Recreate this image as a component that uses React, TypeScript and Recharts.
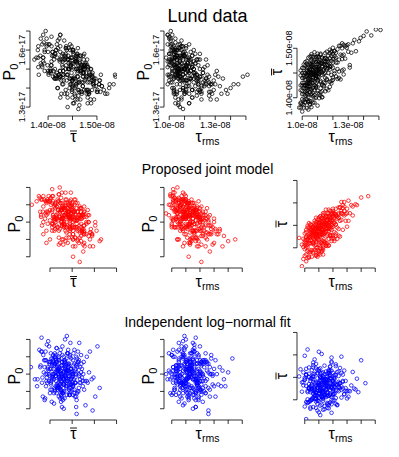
import React from "react";
import { ReferenceLine, Scatter, ScatterChart, XAxis, YAxis } from "recharts";

// units: P0 in 1e-19, tau-bar in 1e-11 s, tau-rms in 1e-10 s
const lundTauRms = [
  104, 108, 101, 112, 106, 99, 115, 103, 110, 107,
  102, 105, 111, 100, 118, 104, 109, 103, 113, 106,
  107, 101, 116, 104, 99, 110, 105, 122, 102, 108,
  103, 114, 106, 100, 109, 126, 104, 111, 107, 102,
  105, 112, 101, 108, 98, 119, 106, 103, 110, 133,
  104, 107, 115, 100, 109, 102, 112, 106, 121, 99,
  108, 103, 117, 105, 101, 111, 128, 104, 107, 113,
  100, 106, 110, 102, 124, 105, 108, 103, 116, 101,
  107, 114, 104, 109, 99, 111, 137, 106, 103, 119,
  102, 105, 110, 104, 108, 101, 113, 106, 130, 100,
  109, 103, 118, 105, 107, 100, 112, 104, 145, 106,
  101, 110, 104, 115, 108, 102, 120, 106, 103, 111,
  105, 100, 109, 127, 104, 107, 113, 101, 106, 140,
  103, 108, 111, 99, 105, 116, 102, 110, 104, 123,
  106, 101, 109, 104, 112, 100, 107, 135, 103, 108,
  110, 104, 102, 117, 106, 99, 114, 105, 148, 101,
  107, 103, 112, 105, 121, 108, 100, 110, 104, 131,
  102, 106, 109, 101, 115, 104, 111, 99, 142, 107,
  105, 113, 103, 108, 100, 126, 106, 102, 110, 119,
  104, 108, 101, 112, 106, 103, 109, 151, 105, 117,
  114, 119, 109, 123, 116, 111, 128, 113, 120, 117,
  110, 122, 115, 106, 125, 118, 112, 129, 108, 121,
  117, 105, 124, 112, 119, 109, 131, 115, 103, 126,
  107, 113, 120, 110, 127, 116, 104, 122, 111, 118,
  114, 102, 118, 125, 109, 113, 106, 121, 116, 134,
  111, 120, 108, 115, 123, 104, 118, 112, 127, 109,
  116, 110, 129, 106, 113, 121, 102, 119, 124, 114,
  108, 117, 111, 126, 105, 114, 120, 109, 115, 138,
  113, 106, 122, 118, 110, 125, 115, 103, 119, 112,
  109, 124, 114, 107, 120, 111, 132, 116, 105, 121,
  112, 118, 107, 123, 115, 110, 127, 104, 117, 113,
  119, 108, 114, 126, 111, 120, 106, 115, 130, 110,
];
const lundTauBar = [
  1433, 1405, 1445, 1431, 1466, 1388, 1463, 1414, 1436, 1390,
  1437, 1393, 1472, 1397, 1462, 1466, 1420, 1424, 1401, 1448,
  1436, 1380, 1473, 1401, 1425, 1484, 1423, 1481, 1390, 1460,
  1409, 1448, 1381, 1450, 1452, 1485, 1391, 1449, 1483, 1425,
  1451, 1419, 1425, 1425, 1380, 1494, 1441, 1461, 1409, 1510,
  1423, 1463, 1430, 1372, 1437, 1405, 1469, 1408, 1449, 1455,
  1445, 1397, 1450, 1483, 1440, 1399, 1504, 1439, 1420, 1463,
  1407, 1474, 1444, 1450, 1453, 1388, 1492, 1419, 1458, 1385,
  1410, 1478, 1436, 1400, 1415, 1457, 1514, 1431, 1379, 1434,
  1472, 1431, 1384, 1449, 1415, 1420, 1481, 1458, 1493, 1430,
  1472, 1444, 1432, 1411, 1448, 1387, 1434, 1461, 1526, 1393,
  1460, 1459, 1406, 1490, 1433, 1412, 1461, 1488, 1431, 1427,
  1458, 1460, 1444, 1457, 1376, 1430, 1413, 1430, 1436, 1525,
  1469, 1400, 1465, 1390, 1438, 1418, 1417, 1449, 1429, 1498,
  1451, 1407, 1482, 1453, 1454, 1414, 1403, 1494, 1447, 1475,
  1434, 1416, 1442, 1475, 1416, 1445, 1431, 1445, 1538, 1467,
  1473, 1407, 1487, 1418, 1484, 1448, 1440, 1469, 1393, 1466,
  1425, 1464, 1424, 1450, 1440, 1423, 1442, 1380, 1534, 1440,
  1441, 1451, 1454, 1390, 1424, 1500, 1406, 1397, 1442, 1464,
  1431, 1452, 1395, 1404, 1476, 1427, 1462, 1537, 1385, 1485,
  1458, 1429, 1472, 1458, 1478, 1407, 1479, 1469, 1436, 1460,
  1454, 1471, 1480, 1418, 1437, 1457, 1411, 1501, 1482, 1454,
  1415, 1468, 1477, 1459, 1492, 1422, 1461, 1450, 1474, 1455,
  1456, 1401, 1478, 1482, 1487, 1436, 1481, 1491, 1452, 1422,
  1468, 1465, 1464, 1487, 1450, 1426, 1456, 1494, 1438, 1517,
  1475, 1441, 1448, 1460, 1471, 1446, 1480, 1471, 1447, 1440,
  1493, 1414, 1506, 1446, 1481, 1494, 1392, 1446, 1505, 1423,
  1425, 1472, 1482, 1478, 1455, 1455, 1471, 1457, 1413, 1521,
  1446, 1484, 1443, 1490, 1462, 1505, 1473, 1457, 1474, 1489,
  1444, 1440, 1473, 1450, 1488, 1462, 1491, 1466, 1428, 1479,
  1451, 1497, 1466, 1438, 1480, 1489, 1507, 1451, 1465, 1471,
  1484, 1462, 1425, 1510, 1459, 1501, 1468, 1467, 1508, 1474,
];
const lundP0 = [
  157, 150, 163, 147, 149, 163, 139, 145, 157, 154,
  161, 149, 148, 166, 136, 151, 140, 154, 148, 156,
  139, 162, 148, 147, 168, 138, 155, 143, 156, 134,
  159, 145, 147, 144, 158, 143, 164, 139, 146, 149,
  160, 156, 146, 135, 156, 144, 150, 139, 159, 141,
  166, 144, 151, 155, 162, 148, 152, 157, 138, 154,
  145, 162, 141, 137, 155, 152, 142, 137, 161, 143,
  167, 150, 150, 140, 145, 151, 144, 140, 154, 166,
  146, 153, 156, 159, 147, 141, 139, 146, 160, 155,
  143, 142, 157, 156, 146, 165, 132, 150, 142, 154,
  150, 145, 144, 157, 148, 152, 155, 161, 142, 160,
  143, 157, 152, 139, 165, 155, 146, 132, 149, 144,
  150, 158, 140, 142, 156, 155, 145, 158, 161, 140,
  138, 149, 155, 168, 147, 145, 160, 144, 152, 141,
  145, 154, 139, 132, 150, 158, 163, 145, 152, 150,
  137, 160, 150, 153, 145, 142, 149, 160, 146, 152,
  152, 152, 150, 148, 137, 153, 147, 143, 159, 134,
  168, 131, 149, 160, 135, 146, 161, 151, 142, 130,
  157, 132, 146, 156, 146, 138, 149, 163, 153, 143,
  147, 160, 170, 149, 152, 137, 129, 147, 153, 147,
  154, 142, 157, 142, 148, 162, 137, 137, 158, 148,
  137, 148, 139, 163, 152, 155, 149, 139, 151, 140,
  158, 138, 145, 153, 142, 147, 149, 135, 158, 136,
  154, 163, 139, 150, 134, 150, 135, 148, 151, 147,
  149, 154, 138, 147, 144, 155, 134, 141, 160, 137,
  144, 155, 162, 146, 151, 151, 155, 141, 142, 147,
  143, 150, 144, 153, 151, 134, 153, 152, 142, 145,
  162, 146, 138, 146, 155, 145, 146, 157, 157, 137,
  156, 148, 150, 147, 150, 144, 151, 156, 139, 144,
  155, 155, 155, 142, 150, 152, 146, 150, 157, 146,
  153, 145, 157, 144, 152, 146, 138, 159, 153, 141,
  145, 157, 159, 141, 158, 138, 148, 157, 147, 152,
];

const jointTauRms = [
  108, 115, 102, 121, 111, 99, 118, 106, 126, 113,
  104, 117, 110, 129, 101, 114, 107, 122, 98, 112,
  109, 120, 103, 116, 111, 133, 105, 124, 100, 113,
  106, 112, 119, 102, 115, 108, 127, 110, 104, 118,
  113, 101, 121, 108, 96, 116, 110, 131, 105, 114,
  107, 123, 103, 111, 117, 100, 109, 136, 112, 104,
  115, 108, 120, 102, 113, 125, 106, 110, 118, 99,
  111, 104, 128, 116, 107, 113, 101, 122, 109, 140,
  105, 118, 112, 100, 124, 109, 115, 103, 130, 108,
  114, 106, 119, 110, 102, 127, 112, 117, 104, 121,
  108, 116, 101, 113, 134, 107, 111, 120, 99, 115,
  103, 112, 125, 109, 117, 105, 119, 110, 145, 113,
  107, 121, 114, 101, 110, 118, 104, 129, 111, 116,
  113, 102, 108, 123, 115, 106, 137, 112, 100, 119,
  110, 117, 104, 112, 127, 108, 120, 114, 102, 132,
  106, 115, 111, 98, 118, 109, 124, 103, 113, 107,
  112, 105, 121, 109, 116, 101, 126, 110, 119, 104,
  108, 114, 102, 120, 111, 106, 117, 131, 113, 109,
  104, 116, 110, 122, 107, 113, 100, 118, 111, 128,
  109, 103, 115, 119, 106, 112, 124, 101, 108, 116,
  118, 110, 125, 104, 115, 121, 108, 130, 113, 100,
  107, 116, 112, 123, 103, 119, 110, 127, 114, 106,
  111, 120, 105, 117, 124, 109, 114, 101, 122, 116,
  108, 113, 126, 102, 119, 111, 106, 121, 115, 118,
  112, 104, 117, 109, 122, 114, 107, 128, 110, 120,
  115, 103, 110, 124, 108, 118, 113, 101, 126, 111,
  106, 119, 114, 109, 121, 103, 116, 112, 134, 107,
  113, 120, 105, 117, 110, 125, 108, 115, 102, 122,
  109, 116, 121, 104, 113, 111, 128, 118, 107, 114,
  117, 110, 123, 106, 115, 119, 112, 105, 126, 108,
  114, 101, 118, 111, 124, 108, 116, 120, 104, 113,
  110, 122, 107, 115, 119, 112, 130, 105, 117, 109,
];
const jointTauBar = [
  1427, 1410, 1407, 1470, 1385, 1420, 1442, 1389, 1477, 1465,
  1427, 1470, 1407, 1475, 1370, 1435, 1450, 1427, 1359, 1442,
  1420, 1427, 1445, 1462, 1432, 1495, 1395, 1467, 1407, 1395,
  1437, 1397, 1462, 1377, 1435, 1467, 1440, 1442, 1390, 1482,
  1440, 1440, 1415, 1382, 1422, 1427, 1452, 1505, 1425, 1415,
  1405, 1470, 1378, 1470, 1420, 1397, 1443, 1497, 1430, 1437,
  1470, 1422, 1472, 1427, 1385, 1460, 1422, 1392, 1452, 1402,
  1445, 1410, 1492, 1410, 1428, 1433, 1405, 1452, 1395, 1512,
  1380, 1429, 1467, 1417, 1427, 1423, 1452, 1415, 1477, 1452,
  1462, 1412, 1440, 1427, 1445, 1475, 1392, 1455, 1424, 1435,
  1400, 1444, 1410, 1477, 1472, 1442, 1405, 1482, 1375, 1405,
  1430, 1424, 1490, 1380, 1470, 1410, 1420, 1467, 1515, 1430,
  1435, 1455, 1412, 1425, 1387, 1462, 1394, 1460, 1450, 1477,
  1405, 1402, 1442, 1445, 1442, 1447, 1495, 1414, 1432, 1475,
  1437, 1405, 1452, 1440, 1495, 1407, 1447, 1452, 1392, 1477,
  1409, 1455, 1425, 1407, 1427, 1445, 1477, 1380, 1440, 1395,
  1452, 1440, 1467, 1418, 1404, 1385, 1477, 1455, 1415, 1422,
  1430, 1432, 1417, 1422, 1400, 1427, 1443, 1460, 1450, 1400,
  1440, 1452, 1417, 1472, 1418, 1415, 1412, 1462, 1455, 1482,
  1437, 1410, 1425, 1450, 1435, 1410, 1467, 1417, 1432, 1437,
  1467, 1457, 1425, 1452, 1470, 1420, 1447, 1447, 1400, 1382,
  1460, 1460, 1392, 1420, 1455, 1478, 1437, 1488, 1467, 1392,
  1470, 1487, 1430, 1405, 1490, 1385, 1447, 1435, 1487, 1442,
  1457, 1435, 1462, 1449, 1450, 1428, 1412, 1457, 1445, 1427,
  1430, 1417, 1485, 1427, 1432, 1457, 1432, 1472, 1432, 1460,
  1405, 1390, 1462, 1442, 1414, 1472, 1473, 1400, 1482, 1412,
  1432, 1428, 1412, 1463, 1475, 1425, 1454, 1467, 1492, 1445,
  1460, 1470, 1450, 1437, 1392, 1490, 1384, 1462, 1419, 1452,
  1435, 1470, 1477, 1434, 1445, 1458, 1502, 1447, 1418, 1477,
  1450, 1445, 1465, 1445, 1485, 1445, 1457, 1445, 1502, 1437,
  1452, 1423, 1457, 1442, 1474, 1430, 1462, 1477, 1442, 1453,
  1449, 1475, 1455, 1450, 1460, 1450, 1487, 1435, 1477, 1445,
];
const jointP0 = [
  159, 145, 162, 142, 159, 166, 153, 152, 148, 138,
  150, 154, 165, 137, 162, 139, 158, 148, 160, 152,
  166, 152, 147, 156, 148, 143, 162, 141, 149, 155,
  150, 162, 139, 164, 155, 145, 148, 157, 155, 149,
  138, 158, 152, 163, 155, 157, 143, 145, 164, 148,
  165, 147, 156, 153, 141, 165, 154, 136, 149, 147,
  152, 146, 145, 167, 150, 152, 156, 154, 136, 160,
  161, 151, 144, 159, 152, 154, 169, 143, 156, 139,
  163, 158, 148, 152, 152, 138, 150, 159, 138, 153,
  140, 160, 156, 148, 147, 133, 161, 151, 157, 145,
  162, 143, 151, 153, 145, 156, 147, 150, 165, 161,
  152, 161, 144, 154, 139, 153, 162, 152, 140, 137,
  163, 151, 150, 152, 163, 153, 163, 147, 141, 144,
  149, 164, 156, 151, 141, 159, 142, 154, 147, 146,
  153, 157, 140, 161, 143, 153, 146, 154, 156, 143,
  148, 156, 157, 154, 140, 162, 148, 153, 154, 149,
  130, 156, 127, 157, 149, 165, 143, 153, 153, 170,
  152, 158, 147, 153, 157, 149, 153, 146, 147, 163,
  158, 145, 147, 152, 151, 159, 158, 145, 156, 143,
  155, 152, 150, 153, 159, 152, 144, 163, 154, 144,
  159, 163, 158, 140, 158, 137, 167, 152, 140, 148,
  147, 158, 138, 145, 163, 136, 147, 154, 154, 145,
  156, 150, 140, 145, 136, 143, 163, 167, 142, 155,
  136, 154, 151, 160, 148, 161, 160, 147, 145, 157,
  158, 155, 157, 153, 150, 141, 147, 146, 149, 151,
  156, 162, 152, 156, 152, 154, 144, 151, 153, 146,
  157, 154, 161, 156, 155, 157, 147, 158, 146, 146,
  149, 158, 161, 141, 162, 140, 156, 156, 157, 156,
  160, 149, 159, 158, 148, 161, 148, 155, 162, 145,
  157, 152, 154, 159, 154, 153, 154, 149, 150, 163,
  156, 161, 141, 160, 154, 159, 161, 156, 153, 157,
  155, 154, 160, 152, 151, 159, 150, 161, 156, 152,
];

const indepTauRms = [
  112, 105, 121, 98, 116, 109, 127, 103, 114, 118,
  107, 124, 111, 101, 119, 113, 131, 106, 110, 115,
  120, 104, 108, 117, 125, 100, 112, 136, 109, 114,
  116, 102, 122, 111, 107, 119, 113, 128, 105, 110,
  103, 117, 109, 121, 114, 99, 126, 112, 106, 118,
  111, 134, 104, 115, 108, 123, 110, 101, 119, 113,
  125, 107, 116, 102, 112, 120, 109, 117, 140, 105,
  114, 110, 121, 106, 118, 97, 113, 129, 108, 116,
  101, 119, 111, 124, 105, 115, 109, 122, 103, 112,
  117, 108, 133, 113, 100, 120, 111, 106, 126, 114,
  109, 118, 104, 115, 121, 110, 96, 116, 107, 123,
  112, 127, 103, 119, 108, 114, 130, 105, 117, 111,
  106, 113, 120, 102, 116, 109, 124, 111, 118, 104,
  115, 101, 122, 110, 107, 119, 113, 138, 106, 117,
  121, 108, 114, 99, 125, 112, 118, 105, 110, 116,
  103, 120, 111, 128, 106, 115, 109, 122, 113, 100,
  119, 107, 117, 112, 104, 124, 110, 116, 121, 108,
  111, 132, 105, 118, 113, 102, 120, 109, 115, 126,
  114, 106, 119, 103, 110, 123, 117, 108, 112, 143,
  107, 116, 101, 121, 111, 118, 104, 114, 127, 109,
  118, 108, 113, 124, 102, 115, 110, 121, 106, 129,
  111, 117, 104, 120, 109, 114, 126, 100, 116, 112,
  107, 122, 113, 98, 119, 110, 131, 105, 117, 114,
  123, 109, 116, 103, 112, 120, 108, 118, 111, 135,
  104, 115, 110, 125, 113, 107, 119, 101, 121, 116,
  112, 128, 106, 117, 109, 114, 122, 103, 110, 119,
  115, 100, 120, 111, 124, 108, 113, 117, 105, 127,
  109, 118, 114, 102, 116, 121, 107, 112, 130, 110,
  120, 105, 117, 113, 99, 123, 111, 116, 108, 114,
  103, 119, 110, 126, 115, 106, 121, 113, 118, 101,
  116, 111, 129, 107, 112, 120, 104, 117, 110, 122,
  113, 124, 108, 115, 119, 103, 114, 137, 106, 118,
];
const indepTauBar = [
  1432, 1401, 1455, 1418, 1390, 1467, 1440, 1425, 1379, 1448,
  1412, 1436, 1470, 1395, 1428, 1452, 1407, 1483, 1421, 1444,
  1398, 1430, 1415, 1461, 1437, 1385, 1449, 1423, 1409, 1476,
  1443, 1417, 1391, 1434, 1458, 1426, 1402, 1465, 1431, 1413,
  1450, 1381, 1427, 1446, 1410, 1439, 1496, 1420, 1404, 1453,
  1424, 1462, 1399, 1441, 1416, 1433, 1372, 1457, 1429, 1406,
  1471, 1419, 1445, 1393, 1435, 1411, 1459, 1427, 1488, 1403,
  1438, 1414, 1451, 1384, 1422, 1468, 1408, 1442, 1396, 1430,
  1357, 1447, 1420, 1463, 1400, 1436, 1415, 1479, 1425, 1389,
  1454, 1410, 1432, 1405, 1449, 1423, 1387, 1440, 1460, 1418,
  1428, 1474, 1397, 1444, 1413, 1431, 1452, 1382, 1437, 1421,
  1408, 1456, 1426, 1494, 1403, 1441, 1419, 1466, 1392, 1434,
  1446, 1416, 1435, 1401, 1458, 1376, 1429, 1450, 1411, 1442,
  1421, 1469, 1404, 1437, 1425, 1483, 1398, 1417, 1453, 1430,
  1414, 1439, 1386, 1461, 1427, 1406, 1448, 1420, 1507, 1433,
  1395, 1443, 1422, 1412, 1457, 1431, 1399, 1475, 1418, 1445,
  1436, 1409, 1464, 1424, 1380, 1440, 1415, 1452, 1428, 1402,
  1459, 1419, 1434, 1394, 1447, 1512, 1413, 1438, 1423, 1405,
  1426, 1451, 1407, 1472, 1432, 1388, 1444, 1416, 1460, 1437,
  1410, 1430, 1455, 1399, 1421, 1465, 1383, 1441, 1425, 1448,
  1441, 1416, 1452, 1428, 1394, 1463, 1405, 1436, 1477, 1420,
  1433, 1388, 1447, 1424, 1459, 1410, 1430, 1498, 1415, 1444,
  1402, 1455, 1426, 1439, 1371, 1468, 1420, 1448, 1409, 1435,
  1462, 1427, 1393, 1451, 1418, 1432, 1480, 1412, 1443, 1425,
  1417, 1446, 1404, 1437, 1461, 1423, 1390, 1455, 1430, 1408,
  1449, 1413, 1472, 1429, 1398, 1440, 1421, 1458, 1434, 1485,
  1406, 1445, 1419, 1366, 1453, 1431, 1414, 1466, 1425, 1442,
  1391, 1437, 1457, 1420, 1411, 1448, 1428, 1502, 1403, 1439,
  1460, 1424, 1409, 1443, 1432, 1389, 1452, 1418, 1470, 1427,
  1435, 1400, 1464, 1422, 1446, 1413, 1438, 1378, 1456, 1431,
  1416, 1450, 1426, 1490, 1407, 1441, 1423, 1459, 1397, 1434,
  1444, 1419, 1382, 1438, 1465, 1427, 1411, 1447, 1422, 1474,
];
const indepP0 = [
  148, 157, 141, 152, 163, 145, 150, 138, 155, 147,
  160, 143, 151, 154, 136, 149, 158, 146, 153, 142,
  166, 150, 139, 156, 147, 161, 144, 152, 133, 157,
  149, 141, 158, 153, 145, 137, 162, 150, 155, 143,
  152, 171, 146, 140, 156, 151, 129, 159, 148, 144,
  139, 154, 149, 164, 142, 157, 147, 152, 135, 150,
  156, 145, 160, 148, 153, 140, 155, 131, 151, 146,
  143, 158, 150, 137, 162, 147, 153, 144, 169, 149,
  154, 142, 148, 157, 139, 151, 165, 146, 152, 136,
  147, 160, 144, 155, 150, 141, 158, 149, 127, 153,
  161, 146, 152, 138, 156, 145, 150, 163, 142, 148,
  150, 137, 155, 147, 159, 152, 143, 168, 146, 154,
  144, 157, 149, 141, 153, 164, 139, 151, 156, 147,
  158, 145, 134, 152, 148, 160, 150, 143, 155, 140,
  146, 162, 151, 139, 157, 149, 144, 154, 166, 136,
  153, 141, 147, 159, 145, 130, 156, 150, 142, 161,
  148, 155, 140, 152, 163, 146, 151, 138, 157, 144,
  137, 150, 158, 145, 153, 142, 149, 172, 147, 156,
  155, 143, 161, 148, 140, 154, 145, 152, 135, 159,
  150, 147, 139, 157, 144, 158, 148, 162, 141, 153,
  152, 144, 158, 139, 150, 163, 147, 155, 141, 149,
  157, 135, 153, 146, 160, 142, 151, 148, 165, 138,
  145, 156, 150, 162, 143, 154, 137, 159, 147, 152,
  140, 149, 167, 145, 153, 158, 132, 151, 156, 143,
  155, 147, 141, 152, 159, 136, 150, 164, 144, 157,
  148, 161, 153, 139, 146, 155, 142, 150, 170, 145,
  159, 138, 152, 147, 162, 144, 157, 149, 134, 154,
  143, 156, 148, 160, 141, 151, 166, 137, 153, 146,
  151, 164, 139, 155, 147, 158, 143, 150, 161, 140,
  146, 153, 157, 142, 168, 149, 138, 154, 145, 160,
  154, 141, 150, 163, 148, 156, 144, 131, 157, 149,
  139, 158, 145, 152, 142, 155, 162, 147, 151, 143,
];

const rowTitles = ["Lund data", "Proposed joint model", "Independent log\u2212normal fit"];
const rowColors = ["#000000", "#ff0000", "#0000ff"];

const tauBarTicksTop = [1400, 1450, 1500];
const tauBarTicks = [1400, 1450, 1500, 1550];
const p0Ticks = [130, 140, 150, 160, 170];
const tauRmsTicks = [100, 110, 120, 130, 140, 150];

const p0Labels: Record<number, string> = { 130: "1.3e-17", 160: "1.6e-17" };
const tauBarLabels: Record<number, string> = { 1400: "1.40e-08", 1500: "1.50e-08" };
const tauRmsLabels: Record<number, string> = { 100: "1.0e-08", 130: "1.3e-08" };

const FONT = "'Liberation Sans', Arial, Helvetica, sans-serif";

type AxisDef = { domain: [number, number]; ticks: number[]; labels?: Record<number, string> };
type VarKey = "p0" | "tb" | "tr";

const rows = [
  {
    vars: { p0: lundP0, tb: lundTauBar, tr: lundTauRms },
    axes: {
      p0: { domain: [125.3, 171.6], ticks: p0Ticks, labels: p0Labels },
      tb: { domain: [1363, 1541], ticks: tauBarTicksTop, labels: tauBarLabels },
      tr: { domain: [96.6, 153.3], ticks: tauRmsTicks, labels: tauRmsLabels },
    } as Record<VarKey, AxisDef>,
  },
  {
    vars: { p0: jointP0, tb: jointTauBar, tr: jointTauRms },
    axes: {
      p0: { domain: [123.5, 174.3], ticks: p0Ticks },
      tb: { domain: [1355, 1551], ticks: tauBarTicks },
      tr: { domain: [94.5, 156.2], ticks: tauRmsTicks },
    } as Record<VarKey, AxisDef>,
  },
  {
    vars: { p0: indepP0, tb: indepTauBar, tr: indepTauRms },
    axes: {
      p0: { domain: [123.5, 174.3], ticks: p0Ticks },
      tb: { domain: [1355, 1551], ticks: tauBarTicks },
      tr: { domain: [94.5, 156.2], ticks: tauRmsTicks },
    } as Record<VarKey, AxisDef>,
  },
];

// x variable, y variable for each column
const columns: [VarKey, VarKey][] = [
  ["tb", "p0"],
  ["tr", "p0"],
  ["tr", "tb"],
];

// plot region layout
const colLeft = [30, 164, 297];
const rowTop = [28, 180, 332];
const PW = 87;
const PH = 88;
const Y_W = 30;
const X_H = 30;
const M_T = 6;
const M_R = 6;
const titleBase = [22, 173.5, 326.5];
const xLabGap = [25.5, 19, 18.5];
const yLabGap = [15, 10.5, 10.5];

const makeXTick = (labels?: Record<number, string>) => (p: any) => {
  const t = labels ? labels[p.payload.value] : undefined;
  if (!t) return <g />;
  return (
    <text x={p.x} y={p.y} dy="0.71em" textAnchor="middle" fontSize={9} fontFamily={FONT} fill="#000">
      {t}
    </text>
  );
};

const makeYTick = (labels?: Record<number, string>) => (p: any) => {
  const t = labels ? labels[p.payload.value] : undefined;
  if (!t) return <g />;
  return (
    <text
      x={p.x}
      y={p.y}
      transform={`rotate(-90 ${p.x} ${p.y})`}
      textAnchor="middle"
      fontSize={9}
      fontFamily={FONT}
      fill="#000"
    >
      {t}
    </text>
  );
};

function Panel(props: { left: number; top: number; xs: number[]; ys: number[]; xAxis: AxisDef; yAxis: AxisDef; color: string }) {
  const { left, top, xs, ys, xAxis, yAxis, color } = props;
  const data = xs.map((x, i) => ({ x, y: ys[i] }));
  const w = Y_W + PW + M_R;
  const h = M_T + PH + X_H;
  const xt = xAxis.ticks;
  const yt = yAxis.ticks;
  return (
    <div style={{ position: "absolute", left: left - Y_W, top: top - M_T, width: w, height: h }}>
      <ScatterChart width={w} height={h} margin={{ top: M_T, right: M_R, bottom: 0, left: 0 }}>
        <XAxis
          type="number"
          dataKey="x"
          domain={xAxis.domain}
          ticks={xt}
          interval={0}
          allowDataOverflow
          axisLine={false}
          tickLine={{ stroke: "#000", strokeWidth: 0.8 }}
          tickSize={4}
          tickMargin={2}
          height={X_H}
          tick={makeXTick(xAxis.labels)}
        />
        <YAxis
          type="number"
          dataKey="y"
          domain={yAxis.domain}
          ticks={yt}
          interval={0}
          allowDataOverflow
          axisLine={false}
          tickLine={{ stroke: "#000", strokeWidth: 0.8 }}
          tickSize={4}
          tickMargin={1}
          width={Y_W}
          tick={makeYTick(yAxis.labels)}
        />
        <ReferenceLine
          segment={[{ x: xt[0], y: yAxis.domain[0] }, { x: xt[xt.length - 1], y: yAxis.domain[0] }]}
          stroke="#000"
          strokeWidth={0.8}
          ifOverflow="visible"
        />
        <ReferenceLine
          segment={[{ x: xAxis.domain[0], y: yt[0] }, { x: xAxis.domain[0], y: yt[yt.length - 1] }]}
          stroke="#000"
          strokeWidth={0.8}
          ifOverflow="visible"
        />
        <Scatter
          data={data}
          isAnimationActive={false}
          shape={(p: any) => <circle cx={p.cx} cy={p.cy} r={1.8} fill="none" stroke={color} strokeWidth={0.75} />}
        />
      </ScatterChart>
    </div>
  );
}

function TauBar({ x, y }: { x: number; y: number }) {
  return (
    <g>
      <text x={x} y={y} textAnchor="middle" fontSize={16}>τ</text>
      <line x1={x - 3.5} x2={x + 3.5} y1={y - 10.5} y2={y - 10.5} stroke="#000" strokeWidth={0.9} />
    </g>
  );
}

function TauRms({ x, y }: { x: number; y: number }) {
  return (
    <text x={x} y={y} textAnchor="middle">
      <tspan fontSize={16}>τ</tspan>
      <tspan fontSize={10.5} dy={3}>rms</tspan>
    </text>
  );
}

function P0({ x, y }: { x: number; y: number }) {
  return (
    <text x={x} y={y} textAnchor="middle">
      <tspan fontSize={16}>P</tspan>
      <tspan fontSize={11} dy={3}>0</tspan>
    </text>
  );
}

function VarLabel({ v, x, y }: { v: VarKey; x: number; y: number }) {
  if (v === "p0") return <P0 x={x} y={y} />;
  if (v === "tb") return <TauBar x={x} y={y} />;
  return <TauRms x={x} y={y} />;
}

export default function App() {
  return (
    <div style={{ position: "absolute", left: 0, top: 0, width: 399, height: 457, background: "#fff", fontFamily: FONT }}>
      {rows.map((row, r) =>
        columns.map(([xv, yv], c) => (
          <Panel
            key={`${r}-${c}`}
            left={colLeft[c]}
            top={rowTop[r]}
            xs={row.vars[xv]}
            ys={row.vars[yv]}
            xAxis={row.axes[xv]}
            yAxis={row.axes[yv]}
            color={rowColors[r]}
          />
        ))
      )}
      <svg width={399} height={457} style={{ position: "absolute", left: 0, top: 0, pointerEvents: "none" }} fontFamily={FONT} fill="#000">
        {rowTitles.map((t, r) => (
          <text key={t} x={207.5} y={titleBase[r]} textAnchor="middle" fontSize={r === 0 ? 18 : 14}>
            {t}
          </text>
        ))}
        {rowTop.map((top, r) =>
          columns.map(([xv, yv], c) => {
            const lx = colLeft[c] + PW / 2;
            const ly = top + PH + xLabGap[r];
            const yx = colLeft[c] - yLabGap[r];
            const yy = top + PH / 2;
            return (
              <g key={`lab-${r}-${c}`}>
                <VarLabel v={xv} x={lx} y={ly} />
                <g transform={`rotate(-90 ${yx} ${yy})`}>
                  <VarLabel v={yv} x={yx} y={yy} />
                </g>
              </g>
            );
          })
        )}
      </svg>
    </div>
  );
}
